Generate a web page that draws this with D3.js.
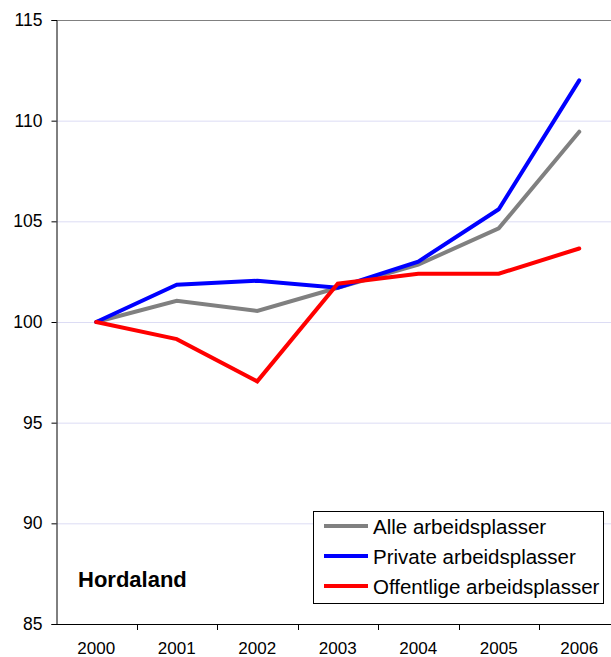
<!DOCTYPE html>
<html><head><meta charset="utf-8">
<script src="https://cdn.jsdelivr.net/npm/d3@7"></script>
<style>body{margin:0;background:#fff;} svg{display:block;font-family:"Liberation Sans",Arial,sans-serif;}</style>
</head><body>
<svg id="c" width="611" height="657"></svg>
<script>
const years = ["2000","2001","2002","2003","2004","2005","2006"];
const alle = [100, 101.05, 100.55, 101.7, 102.85, 104.65, 109.45];
const privat = [100, 101.85, 102.05, 101.7, 103.0, 105.6, 112.0];
const offentlig = [100, 99.15, 97.05, 101.9, 102.4, 102.4, 103.65];
const yTicks = [85, 90, 95, 100, 105, 110, 115];
const seriesNames = ["Alle arbeidsplasser","Private arbeidsplasser","Offentlige arbeidsplasser"];
const colors = ["#808080","#0000ff","#ff0000"];

(function(){
const svg = d3.select("#c");
const mLeft = 56, mTop = 20, mBottom = 624, bandW = 80.5;
const x = d3.scaleBand().domain(years).range([mLeft, mLeft + bandW*years.length]);
const y = d3.scaleLinear().domain([85,115]).range([mBottom, mTop]);

// gridlines
svg.append("g").selectAll("line").data(yTicks.filter(d=>d>85)).join("line")
  .attr("x1", mLeft).attr("x2", 611)
  .attr("y1", d=>y(d)+0.5).attr("y2", d=>y(d)+0.5)
  .attr("stroke", d=> d===115 ? "#808080" : "#dcdcf4").attr("stroke-width", 1);

// y axis
const ya = svg.append("g").attr("transform", `translate(${mLeft+0.5},0)`)
  .call(d3.axisLeft(y).tickValues(yTicks).tickSize(5).tickPadding(9));
ya.select(".domain").attr("stroke","#000");
ya.selectAll(".tick line").attr("stroke","#000");
ya.selectAll(".tick text").attr("font-size","17.5px").attr("fill","#000").attr("font-family","Liberation Sans, Arial, sans-serif");

// x axis
const xa = svg.append("g").attr("transform", `translate(0,${mBottom+0.5})`)
  .call(d3.axisBottom(x).tickSize(0).tickPadding(17));
xa.select(".domain").attr("stroke","#000").attr("d", `M${mLeft},0H611`);
xa.selectAll(".tick text").attr("font-size","17px").attr("fill","#000").attr("font-family","Liberation Sans, Arial, sans-serif");
svg.append("g").selectAll("line").data(years.slice(1)).join("line")
  .attr("x1", d=>Math.round(x(d))+0.5).attr("x2", d=>Math.round(x(d))+0.5)
  .attr("y1", mBottom).attr("y2", mBottom+6).attr("stroke","#000");

// lines
const data = [alle, privat, offentlig];
const line = d3.line().x((d,i)=>x(years[i])+x.bandwidth()/2).y(d=>y(d));
svg.append("g").selectAll("path").data(data).join("path")
  .attr("d", line).attr("fill","none")
  .attr("stroke",(d,i)=>colors[i]).attr("stroke-width",4)
  .attr("stroke-linejoin","miter").attr("stroke-linecap","round");

// legend
const lg = svg.append("g");
lg.append("rect").attr("x",313.5).attr("y",511.5).attr("width",290).attr("height",92)
  .attr("fill","#fff").attr("stroke","#000").attr("stroke-width",1);
seriesNames.forEach((n,i)=>{
  const yy = 526 + i*30;
  lg.append("line").attr("x1",324).attr("x2",368).attr("y1",yy).attr("y2",yy)
    .attr("stroke",colors[i]).attr("stroke-width",4);
  lg.append("text").attr("x",373).attr("y",yy+8).attr("font-size","20.5px").text(n);
});

svg.append("text").attr("x",78).attr("y",587).attr("font-size","22px")
  .attr("font-weight","bold").text("Hordaland");
})();
</script>
</body></html>
